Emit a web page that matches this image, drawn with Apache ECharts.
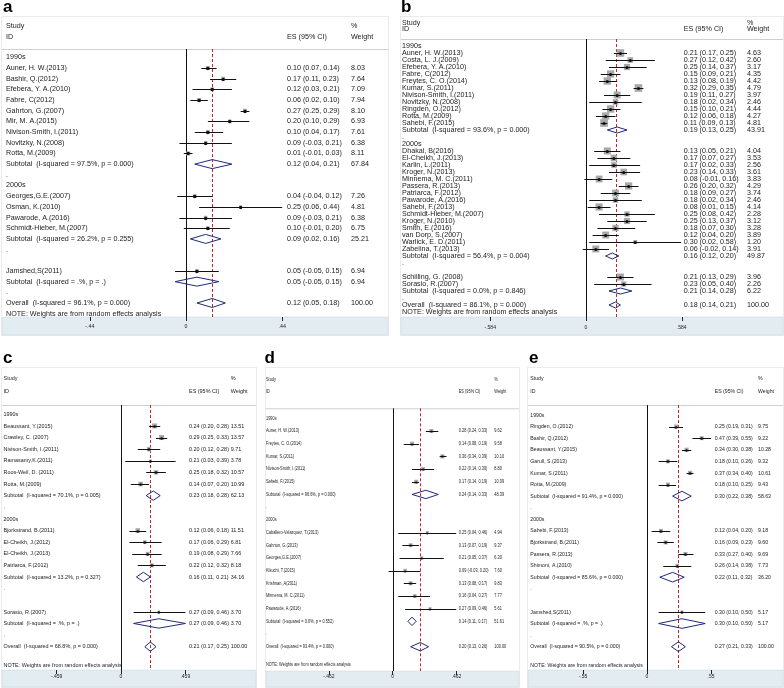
<!DOCTYPE html>
<html><head><meta charset="utf-8">
<script src="https://cdn.jsdelivr.net/npm/echarts@6/dist/echarts.min.js"></script>
<style>html,body{margin:0;padding:0;background:#fff}#chart{width:784px;height:688px}</style>
</head><body><div id="chart"></div>
<script>
// ---------- DATA ----------
const noteText = 'NOTE: Weights are from random effects analysis';

const aStudy = ['1990s','Auner, H. W.(2013)','Bashir, Q.(2012)','Efebera, Y. A.(2010)','Fabre, C(2012)','Gahrton, G.(2007)','Mir, M. A.(2015)','Nivison-Smith, I.(2011)','Novitzky, N.(2008)','Rotta, M.(2009)','Subtotal  (I-squared = 97.5%, p = 0.000)','.','2000s','Georges,G.E.(2007)','Osman, K.(2010)','Pawarode, A.(2016)','Schmidt-Hieber, M.(2007)','Subtotal  (I-squared = 26.2%, p = 0.255)','.','','Jamshed,S(2011)','Subtotal  (I-squared = .%, p = .)','.','Overall  (I-squared = 96.1%, p = 0.000)'];
const aES = [null,0.10,0.17,0.12,0.06,0.27,0.20,0.10,0.09,0.01,0.12,null,null,0.04,0.25,0.09,0.10,0.09,null,null,0.05,0.05,null,0.12];
const aLo = [null,0.07,0.11,0.03,0.02,0.25,0.10,0.04,-0.03,-0.01,0.04,null,null,-0.04,0.06,-0.03,-0.01,0.02,null,null,-0.05,-0.05,null,0.05];
const aHi = [null,0.14,0.23,0.21,0.10,0.29,0.29,0.17,0.21,0.03,0.21,null,null,0.12,0.44,0.21,0.20,0.16,null,null,0.15,0.15,null,0.18];
const aWt = [null,8.03,7.64,7.09,7.94,8.10,6.93,7.61,6.38,8.11,67.84,null,null,7.26,4.81,6.38,6.75,25.21,null,null,6.94,6.94,null,100.00];
const aTicks = [-0.44, 0, 0.44];
const aTickLabels = ['-.44', '0', '.44'];

const bStudy = ['1990s','Auner, H. W.(2013)','Costa, L. J.(2009)','Efebera, Y. A.(2010)','Fabre, C(2012)','Freytes, C. O.(2014)','Kumar, S.(2011)','Nivison-Smith, I.(2011)','Novitzky, N.(2008)','Ringden, O.(2012)','Rotta, M.(2009)','Sahebi, F.(2015)','Subtotal  (I-squared = 93.6%, p = 0.000)','.','2000s','Dhakal, B(2016)','El-Cheikh, J.(2013)','Karlin, L.(2011)','Kroger, N.(2013)','Minnema, M. C.(2011)','Passera, R.(2013)','Patriarca, F.(2012)','Pawarode, A.(2016)','Sahebi, F.(2013)','Schmidt-Hieber, M.(2007)','Kroger, N.(2010)','Smith, E.(2016)','van Dorp, S.(2007)','Warlick, E. D.(2011)','Zabelina, T.(2013)','Subtotal  (I-squared = 56.4%, p = 0.004)','.','','Schilling, G. (2008)','Sorasio, R.(2007)','Subtotal  (I-squared = 0.0%, p = 0.846)','.','Overall  (I-squared = 86.1%, p = 0.000)'];
const bES = [null,0.21,0.27,0.25,0.15,0.13,0.32,0.19,0.18,0.15,0.12,0.11,0.19,null,null,0.13,0.17,0.17,0.23,0.08,0.26,0.18,0.18,0.08,0.25,0.25,0.18,0.12,0.30,0.06,0.16,null,null,0.21,0.23,0.21,null,0.18];
const bLo = [null,0.17,0.12,0.14,0.09,0.08,0.29,0.11,0.02,0.10,0.06,0.09,0.13,null,null,0.05,0.07,0.02,0.14,-0.01,0.20,0.09,0.02,0.01,0.08,0.13,0.07,0.04,0.02,-0.02,0.12,null,null,0.13,0.05,0.14,null,0.14];
const bHi = [null,0.25,0.42,0.37,0.21,0.19,0.35,0.27,0.34,0.21,0.18,0.13,0.25,null,null,0.21,0.27,0.33,0.33,0.16,0.32,0.27,0.34,0.15,0.42,0.37,0.30,0.20,0.58,0.14,0.20,null,null,0.29,0.40,0.28,null,0.21];
const bWt = [null,4.63,2.60,3.17,4.35,4.42,4.79,3.97,2.46,4.44,4.27,4.81,43.91,null,null,4.04,3.53,2.56,3.61,3.83,4.29,3.74,2.46,4.14,2.28,3.12,3.28,3.89,1.20,3.91,49.87,null,null,3.96,2.26,6.22,null,100.00];
const bTicks = [-0.584, 0, 0.584];
const bTickLabels = ['-.584', '0', '.584'];

const cStudy = ['1990s','Beaussant, Y.(2015)','Crawley, C. (2007)','Nivison-Smith, I.(2011)','Ramasamy,K.(2011)','Roos-Weil, D. (2011)','Rotta, M.(2009)','Subtotal  (I-squared = 70.1%, p = 0.005)','.','2000s','Bjorkstrand, B.(2011)','El-Cheikh, J.(2012)','El-Cheikh, J.(2013)','Patriarca, F.(2012)','Subtotal  (I-squared = 13.2%, p = 0.327)','.','','Sorasio, R.(2007)','Subtotal  (I-squared = .%, p = .)','.','Overall  (I-squared = 68.8%, p = 0.000)'];
const cES = [null,0.24,0.29,0.20,0.21,0.25,0.14,0.23,null,null,0.12,0.17,0.19,0.22,0.16,null,null,0.27,0.27,null,0.21];
const cLo = [null,0.20,0.25,0.12,0.03,0.18,0.07,0.18,null,null,0.06,0.06,0.08,0.12,0.11,null,null,0.09,0.09,null,0.17];
const cHi = [null,0.28,0.33,0.28,0.39,0.32,0.20,0.28,null,null,0.18,0.29,0.29,0.32,0.21,null,null,0.46,0.46,null,0.25];
const cWt = [null,13.51,13.57,9.71,3.78,10.57,10.99,62.13,null,null,11.51,6.81,7.66,8.18,34.16,null,null,3.70,3.70,null,100.00];
const cTicks = [-0.459, 0, 0.459];
const cTickLabels = ['-.459', '0', '.459'];

const dStudy = ['1990s','Auner, H. W.(2013)','Freytes, C. O.(2014)','Kumar, S.(2011)','Nivison-Smith, I.(2011)','Sahebi, F.(2015)','Subtotal  (I-squared = 96.6%, p = 0.000)','.','2000s','Caballero-Velazquez, T.(2013)','Gahrton, G.(2013)','Georges,G.E.(2007)','Kikuchi, T.(2015)','Krishnan, A(2011)','Minnema, M. C.(2011)','Pawarode, A.(2016)','Subtotal  (I-squared = 0.0%, p = 0.552)','.','Overall  (I-squared = 93.4%, p = 0.000)'];
const dES = [null,0.28,0.14,0.36,0.22,0.17,0.24,null,null,0.25,0.13,0.21,0.09,0.13,0.16,0.27,0.14,null,0.20];
const dLo = [null,0.24,0.08,0.34,0.14,0.14,0.14,null,null,0.04,0.07,0.05,-0.03,0.08,0.04,0.09,0.11,null,0.13];
const dHi = [null,0.33,0.19,0.39,0.30,0.19,0.33,null,null,0.46,0.19,0.37,0.20,0.17,0.27,0.46,0.17,null,0.26];
const dWt = [null,9.62,9.58,10.10,8.80,10.09,48.39,null,null,4.94,9.37,6.30,7.60,9.83,7.77,5.61,51.61,null,100.00];
const dTicks = [-0.462, 0, 0.462];
const dTickLabels = ['-.462', '0', '.462'];

const eStudy = ['1990s','Ringden, O.(2012)','Bashir, Q.(2012)','Beaussant, Y.(2015)','Garull, S.(2013)','Kumar, S.(2011)','Rotta, M.(2009)','Subtotal  (I-squared = 91.4%, p = 0.000)','.','2000s','Sahebi, F.(2013)','Bjorkstrand, B.(2011)','Passera, R.(2013)','Shimoni, A.(2010)','Subtotal  (I-squared = 85.6%, p = 0.000)','.','','Jamshed,S(2011)','Subtotal  (I-squared = .%, p = .)','.','Overall  (I-squared = 90.5%, p = 0.000)'];
const eES = [null,0.25,0.47,0.34,0.18,0.37,0.18,0.30,null,null,0.12,0.16,0.33,0.26,0.22,null,null,0.30,0.30,null,0.27];
const eLo = [null,0.19,0.39,0.30,0.10,0.34,0.10,0.22,null,null,0.04,0.09,0.27,0.14,0.11,null,null,0.10,0.10,null,0.21];
const eHi = [null,0.31,0.55,0.38,0.26,0.40,0.25,0.38,null,null,0.20,0.23,0.40,0.38,0.32,null,null,0.50,0.50,null,0.33];
const eWt = [null,9.75,9.22,10.28,9.32,10.61,9.43,58.63,null,null,9.18,9.60,9.69,7.73,36.20,null,null,5.17,5.17,null,100.00];
const eTicks = [-0.55, 0, 0.55];
const eTickLabels = ['-.55', '0', '.55'];

// ---------- LAYOUT / STYLE ----------
const REG = '"Liberation Sans", Arial, Helvetica, sans-serif';
const mctx = document.createElement('canvas').getContext('2d');
function fit(str, fam, target) { mctx.font = '100px ' + fam; return target * 100 / mctx.measureText(str).width; }

const LAYOUT = {
  a: {box:[1,16,388,335], band:317, sep:49, y0:57.3, s:10.683, noteRow:24, zeroX:186, scale:218.6, gridL:84, gridR:285,
      labelX:6, esX:287, wtX:351, hdr:[26, 37], letter:[3,7], sx:1, ref:['Auner, H. W.(2013)',61],
      tickRef:['.44',7.3], tickMargin:7, boxK:1.4, dotR:1.7, diaH:4.5},
  b: {box:[400,16,783,335], band:317, sep:39, y0:46, s:7.0, noteRow:38, zeroX:586, scale:164, gridL:484, gridR:683,
      labelX:402, esX:683.7, wtX:747, hdr:[22.7, 29.3], letter:[401,7], sx:1, ref:['Auner, H. W.(2013)',61],
      tickRef:['.584',9.3], tickMargin:8, boxK:3.5, dotR:1.6, diaH:3},
  c: {box:[1,367,256,687], band:670, sep:405, y0:414.3, s:11.62, noteRow:21.57, zeroX:121, scale:140.1, gridL:50, gridR:187,
      labelX:3.5, esX:189, wtX:230.7, hdr:[378.3, 391], letter:[3,358.5], sx:0.88, ref:['Beaussant, Y.(2015)',49],
      tickRef:['.459',7.3], tickMargin:4, boxK:1.36, dotR:1.3, diaH:4.7},
  d: {box:[265,367,519,687], band:671, sep:408.3, y0:418.3, s:12.69, noteRow:19.44, zeroX:392.7, scale:138.1, gridL:322, gridR:458,
      labelX:266, esX:458.7, wtX:494.3, hdr:[380, 392], letter:[264.5,358.5], sx:0.83, ref:['Auner, H. W.(2013)',33.3],
      tickRef:['.462',6.7], tickMargin:3, boxK:1.27, dotR:1.1, diaH:4.2},
  e: {box:[527,367,783,687], band:670, sep:405, y0:415, s:11.585, noteRow:21.6, zeroX:647, scale:116.4, gridL:578, gridR:713,
      labelX:530.3, esX:714.7, wtX:758, hdr:[378.3, 391], letter:[529,358.5], sx:0.9, ref:['Beaussant, Y.(2015)',46.7],
      tickRef:['.55',5.6], tickMargin:4, boxK:1.3, dotR:1.2, diaH:4.8}
};

const PANELS = [
  {key:'a', study:aStudy, es:aES, lo:aLo, hi:aHi, wt:aWt, ticks:aTicks, tickLabels:aTickLabels},
  {key:'b', study:bStudy, es:bES, lo:bLo, hi:bHi, wt:bWt, ticks:bTicks, tickLabels:bTickLabels},
  {key:'c', study:cStudy, es:cES, lo:cLo, hi:cHi, wt:cWt, ticks:cTicks, tickLabels:cTickLabels},
  {key:'d', study:dStudy, es:dES, lo:dLo, hi:dHi, wt:dWt, ticks:dTicks, tickLabels:dTickLabels},
  {key:'e', study:eStudy, es:eES, lo:eLo, hi:eHi, wt:eWt, ticks:eTicks, tickLabels:eTickLabels}
];

const TXT = '#222';
const NAVY = '#1f2a7a';
const RED = '#b8282e';
const BOXFILL = '#a8a8a8';

function isPooled(lbl) { return /^(Subtotal|Overall)/.test(lbl); }
function fmt(v) { return v.toFixed(2); }

function textEl(x, y, str, L) {
  return {type:'text', x:x, y:y, scaleX:L.sx, silent:true,
    style:{text:str, fill:TXT, fontSize:L.fs, fontFamily:REG, align:'left', verticalAlign:'middle',
           textAlign:'left', textVerticalAlign:'middle'}};
}

const grids=[], xAxes=[], yAxes=[], series=[], gfx=[];

PANELS.forEach((P, k) => {
  const L = LAYOUT[P.key];
  L.fs = fit(L.ref[0], REG, L.ref[1] / L.sx);
  L.tfs = Math.max(5, fit(L.tickRef[0], REG, L.tickRef[1] / Math.max(L.sx, 0.85)));
  const top = L.sep, bottom = L.band;
  grids.push({left:L.gridL, top:top, width:L.gridR - L.gridL, height:bottom - top});
  xAxes.push({type:'value', gridIndex:k,
    min:(L.gridL - L.zeroX) / L.scale, max:(L.gridR - L.zeroX) / L.scale,
    axisLine:{show:false, onZero:false}, splitLine:{show:false},
    axisTick:{show:true, customValues:P.ticks, length:4, lineStyle:{color:'#222', width:1}},
    axisLabel:{show:true, customValues:P.ticks, margin:L.tickMargin, fontSize:L.tfs, fontFamily:REG, color:TXT,
      formatter:(v) => { const i = P.ticks.findIndex(t => Math.abs(t - v) < 1e-6); return i >= 0 ? P.tickLabels[i] : ''; }}
  });
  yAxes.push({type:'value', gridIndex:k, inverse:true, show:false, axisLine:{onZero:false},
    min:-(L.y0 - top) / L.s, max:(bottom - L.y0) / L.s});

  const overall = P.es[P.study.findIndex(s => /^Overall/.test(s))];

  // reference lines: zero (solid) and overall effect (dashed red)
  series.push({type:'custom', xAxisIndex:k, yAxisIndex:k, clip:false, silent:true, z:2, animation:false,
    data:[[0, 0], [overall, 0]], encode:{x:0, y:1},
    renderItem:(params, api) => {
      const cs = params.coordSys;
      const x = Math.round(api.coord([api.value(0), 0])[0]) + 0.5;
      const isZero = params.dataIndex === 0;
      return {type:'line', shape:{x1:x, y1:cs.y, x2:x, y2:cs.y + cs.height},
        style:{stroke:isZero ? '#111' : RED, lineWidth:1, lineDash:isZero ? null : [3, 2]}};
    }});

  // rows
  const rows = P.study.map((_, i) => [i, P.es[i] == null ? 0 : P.es[i]]);
  rows.push([L.noteRow, 0]);
  series.push({type:'custom', xAxisIndex:k, yAxisIndex:k, clip:false, silent:true, z:3, animation:false,
    data:rows, encode:{x:1, y:0},
    renderItem:(params, api) => {
      const i = params.dataIndex;
      const row = api.value(0);
      const y = api.coord([0, row])[1];
      const ch = [];
      if (i >= P.study.length) {
        ch.push(textEl(L.labelX, y, noteText, L));
        return {type:'group', children:ch};
      }
      const lbl = P.study[i];
      if (lbl) ch.push(textEl(L.labelX, y, lbl, L));
      if (P.es[i] != null) {
        ch.push(textEl(L.esX, y, fmt(P.es[i]) + ' (' + fmt(P.lo[i]) + ', ' + fmt(P.hi[i]) + ')', L));
        ch.push(textEl(L.wtX, y, P.wt[i].toFixed(2), L));
        const xe = api.coord([P.es[i], row])[0];
        const xl = api.coord([P.lo[i], row])[0];
        const xh = api.coord([P.hi[i], row])[0];
        if (isPooled(lbl)) {
          ch.push({type:'polygon', shape:{points:[[xl, y], [xe, y - L.diaH], [xh, y], [xe, y + L.diaH]]},
            style:{fill:'none', stroke:NAVY, lineWidth:1}});
        } else {
          const side = L.boxK * Math.sqrt(P.wt[i]);
          ch.push({type:'rect', shape:{x:xe - side / 2, y:y - side / 2, width:side, height:side},
            style:{fill:BOXFILL}});
          const yy = Math.round(y) + 0.5;
          ch.push({type:'line', shape:{x1:xl, y1:yy, x2:xh, y2:yy}, style:{stroke:'#111', lineWidth:1}});
          ch.push({type:'circle', shape:{cx:xe, cy:yy, r:L.dotR}, style:{fill:'#111'}});
        }
      }
      return {type:'group', children:ch};
    }});

  // static panel decoration
  const [bx1, by1, bx2, by2] = L.box;
  gfx.push({type:'rect', z:-3, silent:true, shape:{x:bx1 + 0.5, y:by1 + 0.5, width:bx2 - bx1, height:by2 - by1},
    style:{fill:'#fff', stroke:'#d6d6d6', lineWidth:1, lineDash:[1, 1]}});
  gfx.push({type:'rect', z:-2, silent:true, shape:{x:bx1 + 1, y:L.band, width:bx2 - bx1 - 1, height:by2 - L.band},
    style:{fill:'#e2ecf1', stroke:'#c9d8e0', lineWidth:0.5}});
  gfx.push({type:'line', z:-2, silent:true, shape:{x1:bx1 + 1, y1:L.sep + 0.5, x2:bx2, y2:L.sep + 0.5},
    style:{stroke:'#cfcfcf', lineWidth:1}});
  const hs = {fill:TXT, fontSize:L.fs, fontFamily:REG, align:'left', verticalAlign:'middle', textAlign:'left', textVerticalAlign:'middle'};
  const hdrText = (x, y, t) => ({type:'text', z:5, silent:true, x:x, y:y, scaleX:L.sx, style:Object.assign({text:t}, hs)});
  gfx.push(hdrText(L.labelX, L.hdr[0], 'Study'));
  gfx.push(hdrText(L.labelX, L.hdr[1], 'ID'));
  gfx.push(hdrText(L.esX, L.hdr[1], 'ES (95% CI)'));
  gfx.push(hdrText(L.wtX, L.hdr[0], '%'));
  gfx.push(hdrText(L.wtX, L.hdr[1], 'Weight'));
  gfx.push({type:'text', z:5, silent:true, x:L.letter[0], y:L.letter[1],
    style:{text:P.key, fill:'#000', fontSize:17, fontWeight:'bold', fontFamily:REG, align:'left', verticalAlign:'middle',
           textAlign:'left', textVerticalAlign:'middle'}});
});

const chart = echarts.init(document.getElementById('chart'), null, {renderer:'canvas'});
chart.setOption({
  animation:false,
  backgroundColor:'#fff',
  grid:grids, xAxis:xAxes, yAxis:yAxes, series:series,
  graphic:{elements:gfx}
});
</script></body></html>
